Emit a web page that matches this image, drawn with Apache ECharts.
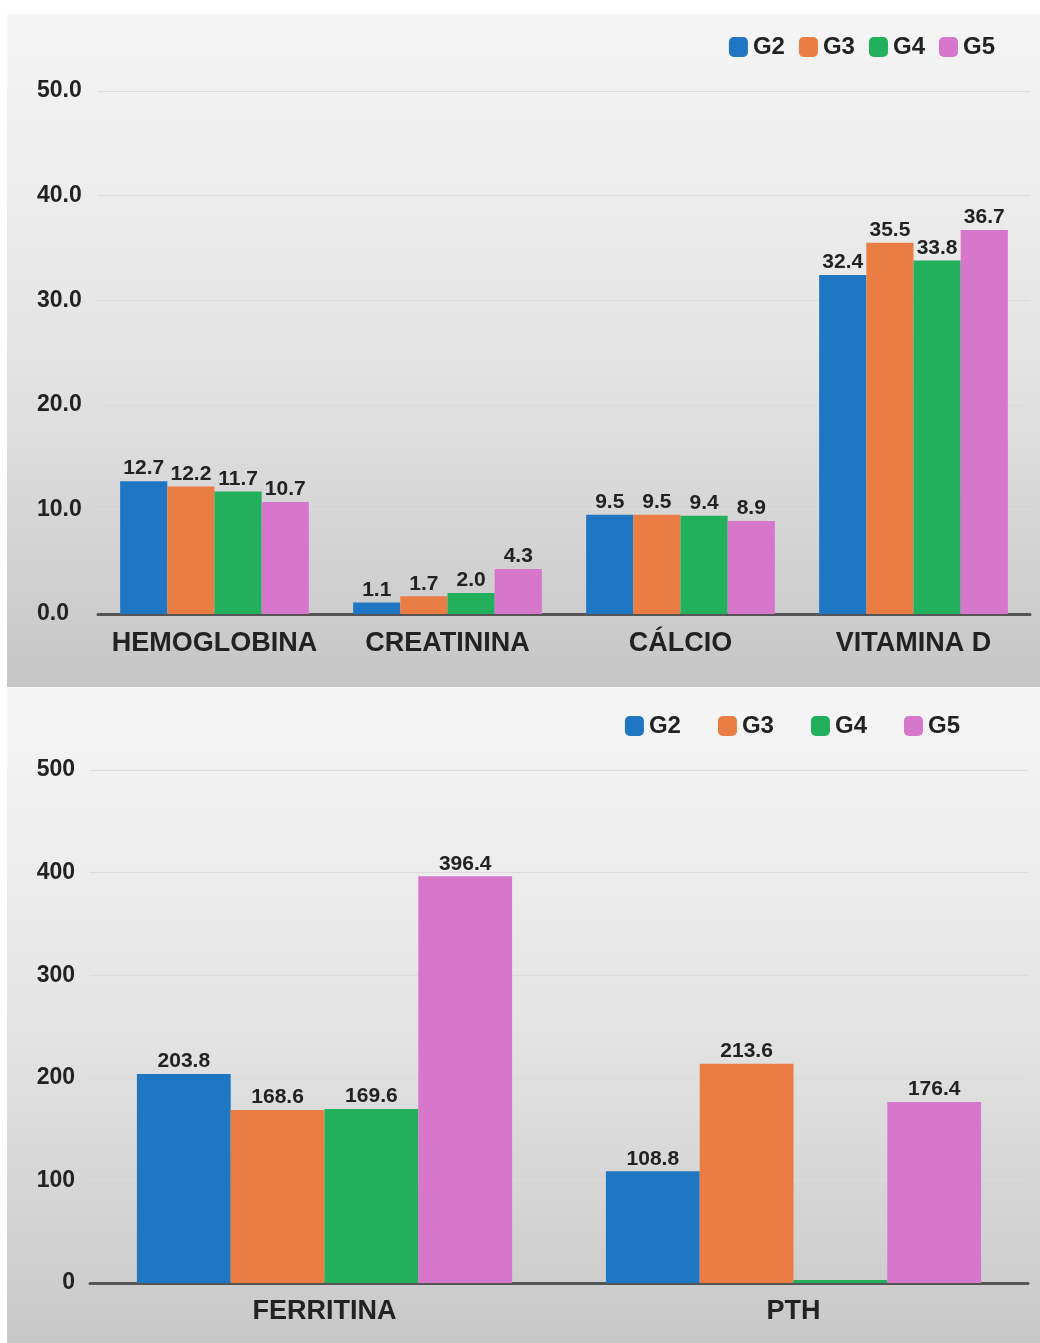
<!DOCTYPE html>
<html>
<head>
<meta charset="utf-8">
<script src="https://cdn.jsdelivr.net/npm/echarts@6/dist/echarts.min.js"></script>
<style>
  html, body { margin: 0; padding: 0; background: #ffffff; }
  #chart { width: 1040px; height: 1343px; }
</style>
</head>
<body>
<div id="chart"></div>
<script>
// Top panel: lab markers by CKD stage
const topCategories = ['HEMOGLOBINA', 'CREATININA', 'CÁLCIO', 'VITAMINA D'];
const topG2 = [12.7, 1.1, 9.5, 32.4];
const topG3 = [12.2, 1.7, 9.5, 35.5];
const topG4 = [11.7, 2.0, 9.4, 33.8];
const topG5 = [10.7, 4.3, 8.9, 36.7];
const topTicks = { min: 0, max: 50, interval: 10 };

// Bottom panel: ferritin and PTH
const bottomCategories = ['FERRITINA', 'PTH'];
const bottomG2 = [203.8, 108.8];
const bottomG3 = [168.6, 213.6];
const bottomG4 = [169.6, 0];
const bottomG5 = [396.4, 176.4];
const bottomTicks = { min: 0, max: 500, interval: 100 };

const groupNames = ['G2', 'G3', 'G4', 'G5'];
const groupColors = ['#1f77c3', '#ea7d43', '#22b05c', '#d777cc'];

const FONT = '"Liberation Sans", Arial, sans-serif';
const TEXT = '#222222';

const chart = echarts.init(document.getElementById('chart'), null, { renderer: 'canvas' });

function panelFill(stops) {
  return new echarts.graphic.LinearGradient(0, 0, 0, 1, stops);
}

function barSeries(name, idx, data, axisIdx, decimals, extra) {
  return Object.assign({
    name: name,
    type: 'bar',
    xAxisIndex: axisIdx,
    yAxisIndex: axisIdx,
    data: data,
    barGap: '0%',
    barCategoryGap: axisIdx === 0 ? '19%' : '20%',
    itemStyle: { color: groupColors[idx] },
    label: {
      show: true,
      position: 'top',
      distance: 2,
      fontFamily: FONT,
      fontWeight: 'bold',
      fontSize: 21,
      color: TEXT,
      formatter: function (p) { return p.value === 0 ? '' : p.value.toFixed(decimals); }
    }
  }, extra || {});
}

const series = [];
[topG2, topG3, topG4, topG5].forEach(function (d, i) {
  series.push(barSeries(groupNames[i], i, d, 0, 1));
});
[bottomG2, bottomG3, bottomG4, bottomG5].forEach(function (d, i) {
  series.push(barSeries(groupNames[i], i, d, 1, 1, i === 2 ? { barMinHeight: 3 } : {}));
});

function legendCfg(top, right, gap) {
  return {
    data: groupNames,
    top: top,
    right: right,
    itemGap: gap,
    itemWidth: 19,
    itemHeight: 20,
    icon: 'roundRect',
    textStyle: { fontFamily: FONT, fontWeight: 'bold', fontSize: 24, color: TEXT },
    selectedMode: false
  };
}

function xAxisCfg(gridIndex, cats, margin, fontSize) {
  return {
    type: 'category',
    gridIndex: gridIndex,
    data: cats,
    axisTick: { show: false },
    axisLine: { show: true, lineStyle: { color: '#555555', width: 3 } },
    axisLabel: {
      interval: 0,
      margin: margin,
      fontFamily: FONT,
      fontWeight: 'bold',
      fontSize: fontSize,
      color: TEXT
    }
  };
}

function yAxisCfg(gridIndex, ticks, decimals, align, margin) {
  return {
    type: 'value',
    gridIndex: gridIndex,
    min: ticks.min,
    max: ticks.max,
    interval: ticks.interval,
    axisLine: { show: false },
    axisTick: { show: false },
    splitLine: { show: true, lineStyle: { color: '#dcdcdc', width: 1 } },
    axisLabel: {
      align: align,
      margin: margin,
      fontFamily: FONT,
      fontWeight: 'bold',
      fontSize: 23,
      color: TEXT,
      formatter: function (v) { return v.toFixed(decimals); }
    }
  };
}

chart.setOption({
  animation: false,
  backgroundColor: '#ffffff',
  graphic: [
    {
      type: 'rect', silent: true, z: -10,
      shape: { x: 7, y: 14, width: 1033, height: 673 },
      style: { fill: panelFill([
        { offset: 0, color: '#f5f5f5' },
        { offset: 0.5, color: '#e5e5e5' },
        { offset: 1, color: '#c6c6c6' }
      ]) }
    },
    {
      type: 'rect', silent: true, z: -10,
      shape: { x: 7, y: 687, width: 1033, height: 656 },
      style: { fill: panelFill([
        { offset: 0, color: '#f6f6f6' },
        { offset: 0.5, color: '#e5e5e5' },
        { offset: 1, color: '#c8c8c8' }
      ]) }
    }
  ],
  legend: [
    legendCfg(30, 40, 14),
    legendCfg(709, 75, 37)
  ],
  grid: [
    { left: 98, right: 10, top: 91, height: 523 },
    { left: 90, right: 12, top: 770, height: 513 }
  ],
  xAxis: [
    xAxisCfg(0, topCategories, 16, 27),
    xAxisCfg(1, bottomCategories, 15, 27)
  ],
  yAxis: [
    yAxisCfg(0, topTicks, 1, 'left', 61),
    yAxisCfg(1, bottomTicks, 0, 'right', 15)
  ],
  series: series
});
</script>
</body>
</html>
